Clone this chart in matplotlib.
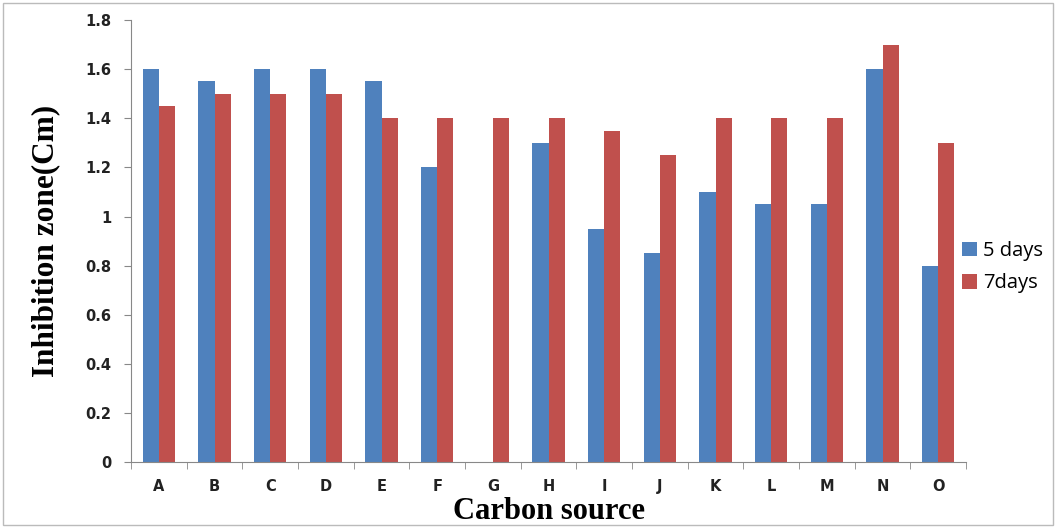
import matplotlib.pyplot as plt
import matplotlib.patches as patches
import numpy as np

sources = ["A", "B", "C", "D", "E", "F", "G", "H", "I", "J", "K", "L", "M", "N", "O"]
days5 = [1.6, 1.55, 1.6, 1.6, 1.55, 1.2, 0, 1.3, 0.95, 0.85, 1.1, 1.05, 1.05, 1.6, 0.8]
days7 = [1.45, 1.5, 1.5, 1.5, 1.4, 1.4, 1.4, 1.4, 1.35, 1.25, 1.4, 1.4, 1.4, 1.7, 1.3]

fig = plt.figure(figsize=(10.57, 5.27), dpi=100)
ax = fig.add_axes([0.124, 0.123, 0.790, 0.839])

x = np.arange(len(sources))
w = 0.29
ax.bar(x - w / 2, days5, w, color="#4F81BD", label="5 days")
ax.bar(x + w / 2, days7, w, color="#C0504D", label="7days")

ax.set_xlim(-0.5, len(sources) - 0.5)
ax.set_ylim(0, 1.8)
ax.set_yticks(np.arange(0, 1.81, 0.2))
ax.set_yticklabels(["0", "0.2", "0.4", "0.6", "0.8", "1", "1.2", "1.4", "1.6", "1.8"])
ax.set_xticks(x)
ax.set_xticklabels(sources)
# category separators as ticks
ax.set_xticks(np.arange(-0.5, len(sources), 1), minor=True)
ax.tick_params(axis="x", which="major", length=0, pad=12)
ax.tick_params(axis="x", which="minor", length=5, color="#888888")
ax.tick_params(axis="y", length=5, color="#888888", pad=9)
for lab in ax.get_xticklabels() + ax.get_yticklabels():
    lab.set_fontweight("bold")
    lab.set_fontsize(10.5)
    lab.set_color("#222222")

for s in ["top", "right"]:
    ax.spines[s].set_visible(False)
ax.spines["left"].set_color("#888888")
ax.spines["bottom"].set_color("#888888")

ax.set_ylabel("Inhibition zone(Cm)", family="Liberation Serif", fontweight="bold", fontsize=22.5, labelpad=18)
ax.set_xlabel("Carbon source", family="Liberation Serif", fontweight="bold", fontsize=22, labelpad=2)

leg = fig.legend(loc="center left", bbox_to_anchor=(0.893, 0.493), frameon=False,
                 prop={"family": "Open Sans", "size": 14.5}, handlelength=0.75, handleheight=0.75,
                 handletextpad=0.3, labelspacing=0.6)

fig.patches.append(patches.Rectangle((0.003, 0.004), 0.993, 0.99, transform=fig.transFigure,
                                     fill=False, edgecolor="#BBBBBB", linewidth=1))

fig.savefig("out.png", dpi=100)
